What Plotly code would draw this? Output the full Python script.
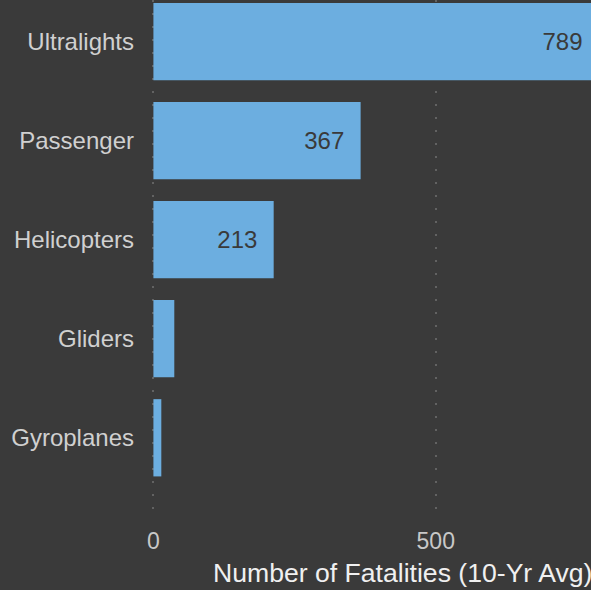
import plotly.graph_objects as go

categories = ["Ultralights", "Passenger", "Helicopters", "Gliders", "Gyroplanes"]
fatalities = [789, 367, 213, 37, 14]
bar_labels = ["789", "367", "213", "", ""]

BG = "#3a3a3a"
BAR = "#6caee0"
TXT = "#d0d0d0"

fig = go.Figure(go.Bar(
    y=categories,
    x=fatalities,
    orientation="h",
    marker_color=BAR,
    marker_line_width=0,
    text=[t + "\u00a0\u00a0" if t else "" for t in bar_labels],
    textposition="inside",
    insidetextanchor="end",
    textfont=dict(size=24, color=BG, family="Liberation Sans"),
    hoverinfo="skip",
))

fig.update_xaxes(
    range=[-2.5, 775],
    tickvals=[0, 500],
    showgrid=True,
    gridcolor="#626262",
    gridwidth=2,
    griddash="2px,11px",
    zeroline=False,
    showline=False,
    ticks="",
    ticklabelstandoff=5,
    tickfont=dict(size=23, color="#c8c8c8", family="Liberation Sans"),
    fixedrange=True,
)
fig.update_yaxes(
    categoryorder="array",
    categoryarray=categories,
    range=[4.83, -0.42],
    showgrid=False,
    zeroline=False,
    ticks="",
    ticklabelstandoff=17,
    tickfont=dict(size=24, color=TXT, family="Liberation Sans"),
    fixedrange=True,
)

fig.add_annotation(
    text="Number of Fatalities (10-Yr Avg)",
    xref="paper", yref="paper", x=1, y=0,
    xanchor="right", yanchor="top", yshift=-36, xshift=3,
    showarrow=False,
    font=dict(size=26.6, color="#f0f0f0", family="Liberation Sans"),
)

fig.update_layout(
    width=591, height=590,
    paper_bgcolor=BG, plot_bgcolor=BG,
    margin=dict(l=152, r=0, t=0, b=70),
    bargap=0.22,
    showlegend=False,
)

fig.write_html(
    "out.html",
    config={"displayModeBar": False},
    post_script="document.body.style.margin='0';",
)
